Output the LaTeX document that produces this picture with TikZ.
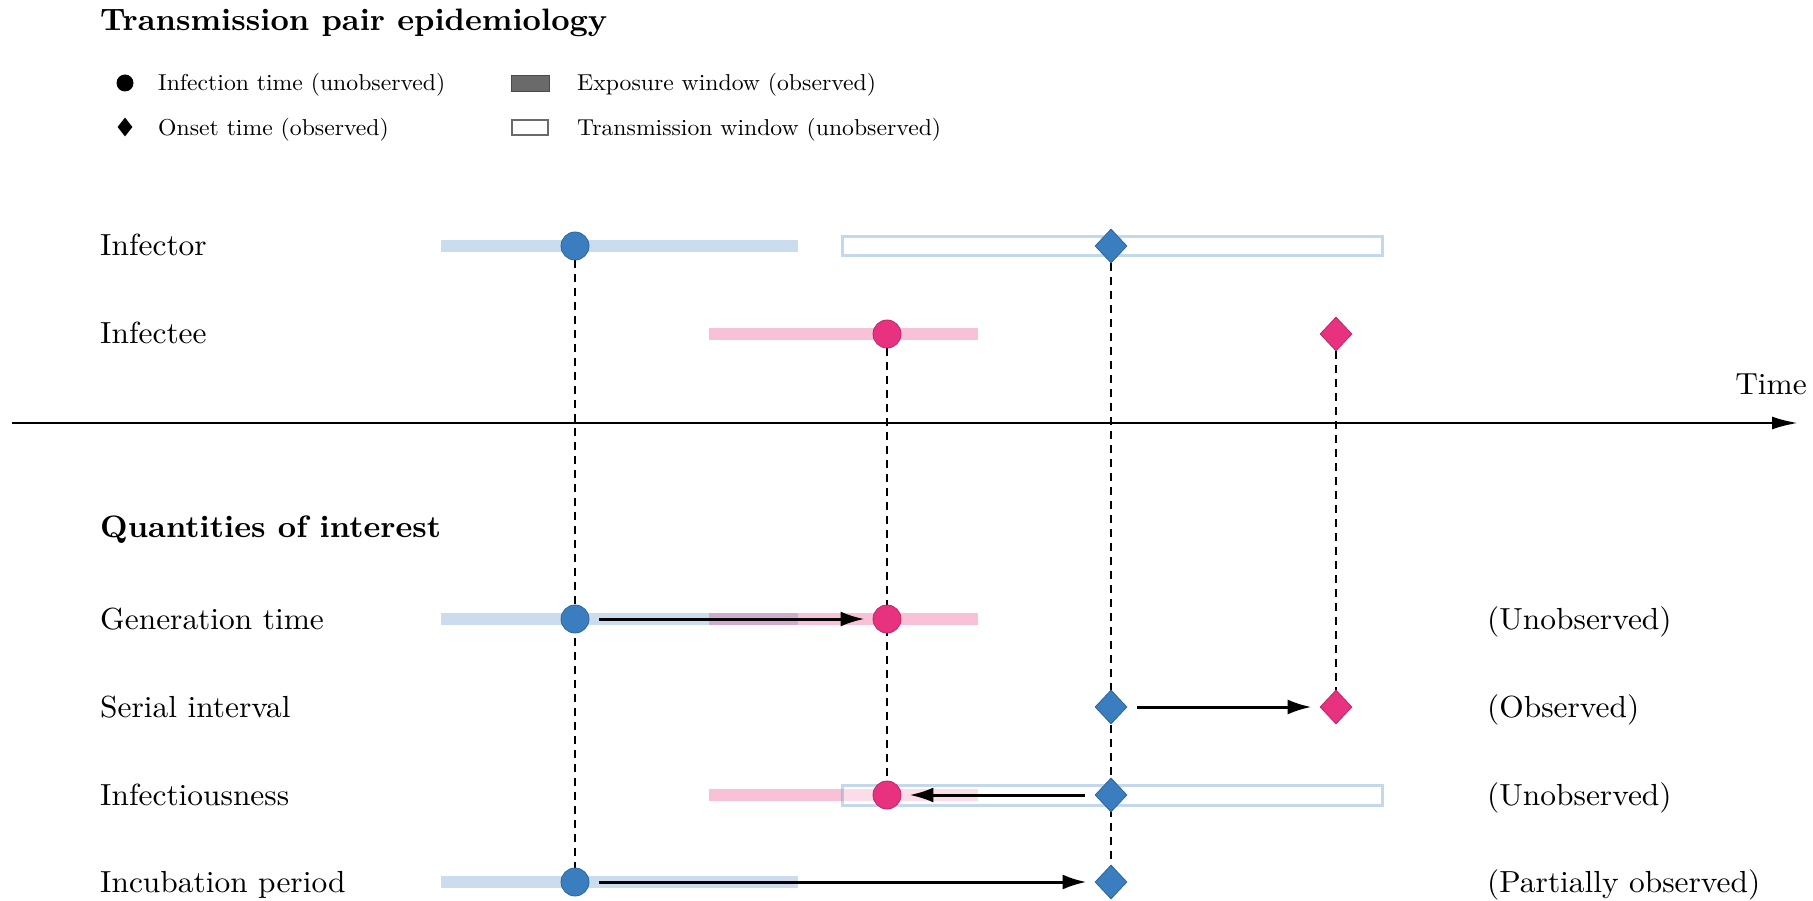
\documentclass[tikz,border=0pt]{standalone}
\usepackage{fontspec}
\setmainfont{lmroman10-regular.otf}[BoldFont=lmroman10-bold.otf,FakeStretch=1.03]
\usepackage{tikz}
\usetikzlibrary{arrows.meta}
\usetikzlibrary{backgrounds}
\usetikzlibrary{positioning}
\usetikzlibrary{shapes.geometric}

\definecolor{infblue}{HTML}{3A7EBF}
\definecolor{infpink}{HTML}{E8327F}
\definecolor{leggray}{HTML}{6A6A6A}

\tikzset{
  rowlabel/.style={anchor=base west,inner sep=0pt,font=\fontsize{30.5}{36}\selectfont},
  heading/.style={rowlabel,font=\fontsize{31}{36}\selectfont\bfseries},
  legtext/.style={anchor=base west,inner sep=0pt,font=\fontsize{23}{28}\selectfont},
  bluebar/.style={line width=12pt,draw=infblue,draw opacity=0.27},
  pinkbar/.style={line width=12pt,draw=infpink,draw opacity=0.3},
  txwin/.style={draw=infblue,draw opacity=0.3,line width=3pt,fill=white,fill opacity=0.45},
  bdot/.style={circle,minimum size=28pt,inner sep=0pt,fill=infblue,draw=infblue!80!black,line width=0.8pt},
  pdot/.style={bdot,fill=infpink,draw=infpink!80!black},
  bdiam/.style={diamond,minimum width=32pt,minimum height=34pt,inner sep=0pt,fill=infblue,draw=infblue!80!black,line width=0.8pt},
  pdiam/.style={bdiam,fill=infpink,draw=infpink!80!black},
  guide/.style={dash pattern=on 8pt off 6pt,line width=2pt},
  delay/.style={-{Latex[length=24pt,width=15pt]},line width=3pt,shorten <=10pt,shorten >=8pt},
  timeaxis/.style={-{Latex[length=26pt,width=13pt]},line width=2.5pt},
}

\begin{document}
\begin{tikzpicture}[x=1pt,y=-1pt]
\useasboundingbox (0,0) rectangle (1813,901);

% legend
\node[heading] (title) at (100,31) {Transmission pair epidemiology};
\node[circle,fill=black,minimum size=17pt,inner sep=0pt] (lg dot) at (125,83) {};
\node[diamond,fill=black,minimum width=15pt,minimum height=19pt,inner sep=0pt] (lg diam) at (125,127) {};
\node[rectangle,fill=leggray,draw=leggray!70!black,minimum width=38pt,minimum height=16pt,inner sep=0pt] (lg exp) at (530,83) {};
\node[rectangle,fill=white,draw=leggray,line width=2pt,minimum width=36pt,minimum height=15pt,inner sep=0pt] (lg tx) at (530,128) {};
\node[legtext] at (158,91) {Infection time (unobserved)};
\node[legtext] at (158,136) {Onset time (observed)};
\node[legtext] at (577,91) {Exposure window (observed)};
\node[legtext] at (577,136) {Transmission window (unobserved)};

% pair
\node[rowlabel] at (100,256) {Infector};
\node[rowlabel] at (100,344) {Infectee};
\node[bdot] (ior) at (575,246) {};
\node[bdiam] (ion) at (1111,246) {};
\node[pdot] (eei) at (887,334) {};
\node[pdiam] (een) at (1336,334) {};

% time axis
\coordinate (t start) at (12,423);
\coordinate (t end) at (1798,423);
\draw[timeaxis] (t start) -- (t end);
\node[rowlabel,anchor=base east] (time) at (1807,395) {Time};

% quantities
\node[heading] at (100,537) {Quantities of interest};
\node[rowlabel] at (100,629) {Generation time};
\node[rowlabel] at (100,717) {Serial interval};
\node[rowlabel] at (100,805) {Infectiousness};
\node[rowlabel] at (100,892) {Incubation period};
\node[rowlabel] at (1487,629) {(Unobserved)};
\node[rowlabel] at (1487,717) {(Observed)};
\node[rowlabel] at (1487,805) {(Unobserved)};
\node[rowlabel] at (1487,892) {(Partially observed)};

\node[bdot] (gen-a) at (575,619) {};
\node[pdot] (gen-b) at (887,619) {};
\node[bdiam] (ser-a) at (1111,707) {};
\node[pdiam] (ser-b) at (1336,707) {};
\node[bdiam] (infs-a) at (1111,795) {};
\node[pdot] (infs-b) at (887,795) {};
\node[bdot] (inc-a) at (575,882) {};
\node[bdiam] (inc-b) at (1111,882) {};

\draw[delay] (gen-a) -- (gen-b);
\draw[delay] (ser-a) -- (ser-b);
\draw[delay] (infs-a) -- (infs-b);
\draw[delay] (inc-a) -- (inc-b);

\begin{scope}[on background layer]
\draw[bluebar] (441,246) -- (798,246);
\draw[txwin] (842,237) rectangle (1382,256);
\draw[pinkbar] (709,334) -- (978,334);
\draw[bluebar] (441,619) -- (798,619);
\draw[pinkbar] (709,619) -- (978,619);
\draw[pinkbar] (709,795) -- (978,795);
\draw[txwin] (842,785) rectangle (1382,805);
\draw[bluebar] (441,882) -- (798,882);
% drop lines
\draw[guide] (ior) -- (inc-a);
\draw[guide] (ion) -- (inc-b);
\draw[guide] (eei) -- (infs-b);
\draw[guide] (een) -- (ser-b);
\end{scope}
\end{tikzpicture}
\end{document}
